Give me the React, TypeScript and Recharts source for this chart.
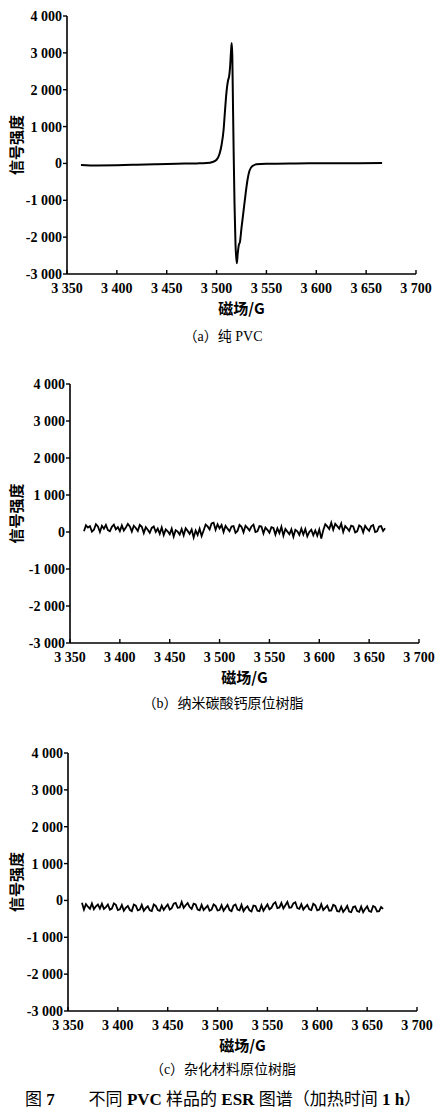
import { LineChart, Line, XAxis, YAxis } from 'recharts';

// x axis (magnetic field, G) and y axis (signal) ticks
const fieldTicks = [3350, 3400, 3450, 3500, 3550, 3600, 3650, 3700];
const signalTicks = [-3000, -2000, -1000, 0, 1000, 2000, 3000, 4000];

// (a) pure PVC – derivative ESR line
const pvcField = [
  3364, 3380, 3400, 3420, 3440, 3460, 3480, 3490, 3496, 3500, 3503, 3505, 3507, 3508.5, 3510,
  3511.5, 3512.5, 3513.5, 3514.5, 3515.2, 3515.8, 3516.5, 3517.2, 3518, 3519, 3520.3, 3521.2,
  3522.2, 3523.5, 3525, 3527, 3529, 3531, 3533, 3536, 3540, 3550, 3580, 3620, 3666,
];
const pvcSignal = [
  -40, -55, -50, -35, -20, -8, 0, 10, 40, 100, 260, 500, 900, 1450, 1950,
  2250, 2350, 2600, 3050, 3270, 2900, 1500, 200, -1100, -2200, -2710, -2450,
  -2230, -2120, -1750, -1300, -850, -450, -200, -70, -25, -10, 0, 5, 10,
];

// (b) and (c) share the same field grid
const noiseField = [
  3364, 3366, 3368, 3370, 3372, 3374, 3376, 3378, 3380, 3382,
  3384, 3386, 3388, 3390, 3392, 3394, 3396, 3398, 3400, 3402,
  3404, 3406, 3408, 3410, 3412, 3414, 3416, 3418, 3420, 3422,
  3424, 3426, 3428, 3430, 3432, 3434, 3436, 3438, 3440, 3442,
  3444, 3446, 3448, 3450, 3452, 3454, 3456, 3458, 3460, 3462,
  3464, 3466, 3468, 3470, 3472, 3474, 3476, 3478, 3480, 3482,
  3484, 3486, 3488, 3490, 3492, 3494, 3496, 3498, 3500, 3502,
  3504, 3506, 3508, 3510, 3512, 3514, 3516, 3518, 3520, 3522,
  3524, 3526, 3528, 3530, 3532, 3534, 3536, 3538, 3540, 3542,
  3544, 3546, 3548, 3550, 3552, 3554, 3556, 3558, 3560, 3562,
  3564, 3566, 3568, 3570, 3572, 3574, 3576, 3578, 3580, 3582,
  3584, 3586, 3588, 3590, 3592, 3594, 3596, 3598, 3600, 3602,
  3604, 3606, 3608, 3610, 3612, 3614, 3616, 3618, 3620, 3622,
  3624, 3626, 3628, 3630, 3632, 3634, 3636, 3638, 3640, 3642,
  3644, 3646, 3648, 3650, 3652, 3654, 3656, 3658, 3660, 3662,
  3664, 3666,
];

// (b) nano calcium carbonate in-situ resin
const nanoSignal = [
  20, 180, 120, 160, 10, 60, 210, 150, 0, 170,
  90, 190, 50, 20, 140, 200, 70, 130, 20, 180,
  40, 120, 220, 150, 10, 170, 110, 30, 190, 140,
  -30, 130, 60, -20, 110, 150, 0, 90, -50, 120,
  -80, 70, 20, -60, 90, -120, 50, 10, -70, 80,
  -90, 100, 30, -50, 70, -150, 40, -80, 90, -110,
  40, 200, 150, 70, 230, 250, 60, 210, 100, 190,
  0, 170, 90, 20, 150, 160, -20, 30, 190, 140,
  -10, 170, 110, 40, 150, 200, 0, 20, 160, 150,
  -40, 120, 60, -20, 130, 110, -70, 100, -30, 140,
  -100, 80, 10, -60, 70, -130, 60, 20, -80, 90,
  -70, 80, -120, 0, 60, -90, 40, -100, 70, -180,
  50, 210, 150, 80, 250, 60, 220, 160, 90, 230,
  0, 160, 100, 30, 170, 150, -10, 20, 180, 140,
  -10, 170, 90, 30, 160, 190, 0, 20, 150, 160,
  30, 100,
];

// (c) hybrid material in-situ resin
const hybridSignal = [
  -60, -250, -100, -170, -230, -80, -240, -160, -110, -220,
  -90, -230, -180, -110, -250, -220, -80, -120, -260, -240,
  -120, -280, -200, -150, -260, -290, -110, -140, -270, -250,
  -120, -280, -210, -160, -270, -290, -110, -150, -260, -280,
  -140, -260, -180, -110, -250, -210, -90, -70, -200, -190,
  -40, -200, -130, -70, -180, -230, -90, -110, -250, -270,
  -120, -260, -200, -140, -280, -250, -110, -150, -270, -260,
  -130, -280, -200, -120, -260, -290, -140, -110, -250, -270,
  -120, -290, -210, -160, -270, -300, -140, -150, -280, -290,
  -130, -280, -190, -110, -240, -200, -90, -50, -210, -190,
  -70, -220, -130, -40, -200, -190, -80, -50, -210, -230,
  -100, -250, -180, -120, -240, -260, -90, -130, -270, -250,
  -100, -260, -200, -140, -280, -270, -120, -150, -290, -300,
  -170, -310, -240, -150, -300, -320, -180, -160, -290, -310,
  -170, -320, -230, -160, -290, -310, -150, -180, -300, -290,
  -180, -230,
];

const toRows = (xs: number[], ys: number[]) => xs.map((x, i) => ({ field: x, signal: ys[i] }));

const spaced = (v: number) => {
  const s = Math.abs(v).toString();
  const body = s.length > 3 ? s.slice(0, s.length - 3) + ' ' + s.slice(-3) : s;
  return (v < 0 ? '-' : '') + body;
};

const tickFont = { fontFamily: '"Liberation Serif", serif', fontWeight: 700, fontSize: 14, fill: '#000' };
const titleFont = '"Liberation Serif", "Noto Sans CJK SC", serif';

interface PanelProps {
  top: number;
  left: number;
  right: number;
  plotH: number;
  rows: Array<{ field: number; signal: number }>;
  curve: 'monotone' | 'linear';
  width: number;
  caption: string;
  captionTop: number;
}

const Panel = ({ top, left, right, plotH, rows, curve, width, caption, captionTop }: PanelProps) => (
  <>
    <div style={{ position: 'absolute', left: 0, top }}>
      <LineChart
        width={442}
        height={16 + plotH + 46}
        data={rows}
        margin={{ top: 16, right: 442 - right, left: 0, bottom: 0 }}
      >
        <XAxis
          dataKey="field"
          type="number"
          domain={[3350, 3700]}
          ticks={fieldTicks}
          tickFormatter={spaced}
          interval={0}
          height={46}
          tickSize={-4}
          tickMargin={13}
          tick={tickFont}
          axisLine={{ stroke: '#000', strokeWidth: 1.6 }}
          tickLine={{ stroke: '#000', strokeWidth: 1.4 }}
          label={{
            value: '磁场/G',
            position: 'insideBottom',
            offset: 6,
            style: { fontFamily: '"Noto Sans CJK SC", sans-serif', fontWeight: 700, fontSize: 15, fill: '#000' },
          }}
        />
        <YAxis
          type="number"
          domain={[-3000, 4000]}
          ticks={signalTicks}
          tickFormatter={spaced}
          interval={0}
          width={left}
          tickSize={4}
          tickMargin={1}
          tick={tickFont}
          axisLine={{ stroke: '#000', strokeWidth: 1.6 }}
          tickLine={{ stroke: '#000', strokeWidth: 1.4 }}
          label={{
            value: '信号强度',
            angle: -90,
            position: 'insideLeft',
            offset: 17,
            style: {
              textAnchor: 'middle',
              fontFamily: '"Noto Sans CJK SC", sans-serif',
              fontWeight: 700,
              fontSize: 15,
              fill: '#000',
            },
          }}
        />
        <Line
          type={curve}
          dataKey="signal"
          stroke="#000"
          strokeWidth={width}
          dot={false}
          isAnimationActive={false}
        />
      </LineChart>
    </div>
    <div
      style={{
        position: 'absolute',
        left: 0,
        width: 446,
        top: captionTop,
        textAlign: 'center',
        fontFamily: titleFont,
        fontSize: 14,
        lineHeight: '16px',
        color: '#000',
      }}
    >
      {caption}
    </div>
  </>
);

export default function App() {
  return (
    <div style={{ position: 'absolute', left: 0, top: 0, width: 442, height: 1115, background: '#fff' }}>
      <Panel
        top={0}
        left={67}
        right={416}
        plotH={258}
        rows={toRows(pvcField, pvcSignal)}
        curve="monotone"
        width={2}
        caption="（a）纯 PVC"
        captionTop={329}
      />
      <Panel
        top={368}
        left={70}
        right={419}
        plotH={259}
        rows={toRows(noiseField, nanoSignal)}
        curve="linear"
        width={1.8}
        caption="（b）纳米碳酸钙原位树脂"
        captionTop={696}
      />
      <Panel
        top={737}
        left={68}
        right={417}
        plotH={258}
        rows={toRows(noiseField, hybridSignal)}
        curve="linear"
        width={1.8}
        caption="（c）杂化材料原位树脂"
        captionTop={1062}
      />
      <div
        style={{
          position: 'absolute',
          left: 0,
          width: 446,
          top: 1090,
          textAlign: 'center',
          fontFamily: titleFont,
          fontSize: 17,
          lineHeight: '20px',
          color: '#000',
          whiteSpace: 'nowrap',
        }}
      >
        图 <b>7</b>　　不同 <b>PVC</b> 样品的 <b>ESR</b> 图谱（加热时间 <b>1 h</b>）
      </div>
    </div>
  );
}
